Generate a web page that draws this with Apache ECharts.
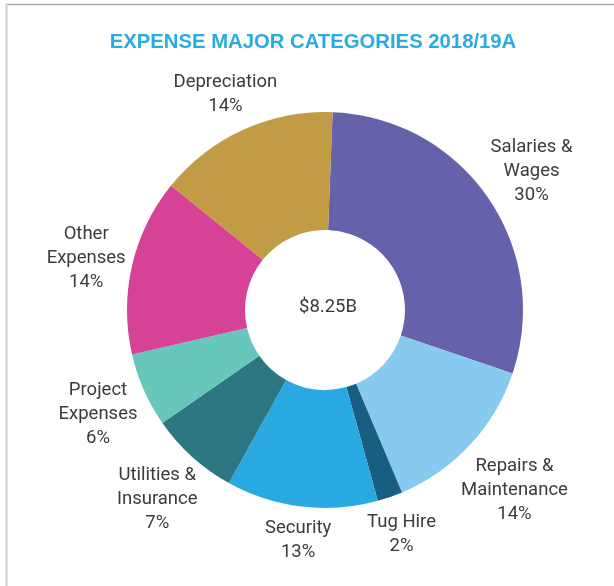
<!doctype html>
<html>
<head>
<meta charset="utf-8" />
<title>Expense major categories</title>
<script src="https://cdn.jsdelivr.net/npm/echarts@6/dist/echarts.min.js"></script>
<style>
  html, body { margin: 0; padding: 0; background: #fff; }
  #main { width: 614px; height: 586px; }
</style>
</head>
<body>
<div id="main"></div>
<script>
// categories (line breaks as in the printed labels)
var categories = ['Salaries &\nWages', 'Repairs &\nMaintenance', 'Tug Hire', 'Security',
                  'Utilities &\nInsurance', 'Project\nExpenses', 'Other\nExpenses', 'Depreciation'];
// amounts in $B (total 8.25)
var amounts = [2.44, 1.11, 0.17, 1.02, 0.60, 0.50, 1.19, 1.22];
// percentages as printed
var pctLabels = ['30%', '14%', '2%', '13%', '7%', '6%', '14%', '14%'];
var colors = ['#6562ab', '#86cbef', '#175e82', '#28a9e1', '#2c7781', '#66c7ba', '#d64295', '#c29c45'];
var totalLabel = '$8.25B';

var labelFont = 'Roboto, "Liberation Sans", sans-serif';

var pieData = [];
for (var i = 0; i < categories.length; i++) {
  pieData.push({ name: categories[i], value: amounts[i], itemStyle: { color: colors[i] } });
}

var myChart = echarts.init(document.getElementById('main'));

var CX = 325, CY = 310, R_IN = 80, R_OUT = 198;

// put each label centre out along its slice's mid line, further for wider boxes
function placeLabel(p) {
  var pts = p.labelLinePoints;
  if (!pts) return {};
  var ux = pts[1][0] - pts[0][0], uy = pts[1][1] - pts[0][1];
  var len = Math.sqrt(ux * ux + uy * uy) || 1;
  ux /= len; uy /= len;
  var hw = p.labelRect.width / 2, hh = p.labelRect.height / 2 - 2.5;
  var d = 206 + 0.85 * (hw * Math.abs(ux) + hh * Math.abs(uy));
  return { x: CX + ux * d, y: CY + uy * d + 4, align: 'center', verticalAlign: 'middle' };
}

var option = {
  animation: false,
  title: [{
    text: 'EXPENSE MAJOR CATEGORIES 2018/19A',
    left: 313,
    top: 32,
    textAlign: 'center',
    padding: 0,
    textStyle: {
      color: '#2aabe2',
      fontFamily: '"Liberation Sans", Arial, sans-serif',
      fontWeight: 'bold',
      fontSize: 20.3
    }
  }, {
    text: totalLabel,
    left: 328,
    top: 307,
    textAlign: 'center',
    textVerticalAlign: 'middle',
    padding: 0,
    textStyle: {
      color: '#3b3b3b',
      fontFamily: labelFont,
      fontWeight: 'normal',
      fontSize: 18.5
    }
  }],
  graphic: [{
    type: 'line',
    shape: { x1: 6, y1: 4.5, x2: 614, y2: 4.5 },
    style: { stroke: '#a9a9ae', lineWidth: 1.5 }
  }, {
    type: 'line',
    shape: { x1: 6.5, y1: 4, x2: 6.5, y2: 586 },
    style: { stroke: '#cfcfcf', lineWidth: 2 }
  }],
  series: [{
    type: 'pie',
    center: [CX, CY],
    radius: [R_IN, R_OUT],
    startAngle: 87.8,
    clockwise: true,
    avoidLabelOverlap: false,
    data: pieData,
    label: {
      show: true,
      position: 'outside',
      formatter: function (p) { return p.name + '\n' + pctLabels[p.dataIndex]; },
      color: '#3b3b3b',
      fontFamily: labelFont,
      fontWeight: 'normal',
      fontSize: 18.5,
      lineHeight: 24,
      align: 'center'
    },
    labelLine: {
      show: true,
      length: 40,
      length2: 1,
      lineStyle: { opacity: 0, width: 0 }
    },
    labelLayout: placeLabel,
    emphasis: { disabled: true }
  }]
};

myChart.setOption(option);
</script>
</body>
</html>
